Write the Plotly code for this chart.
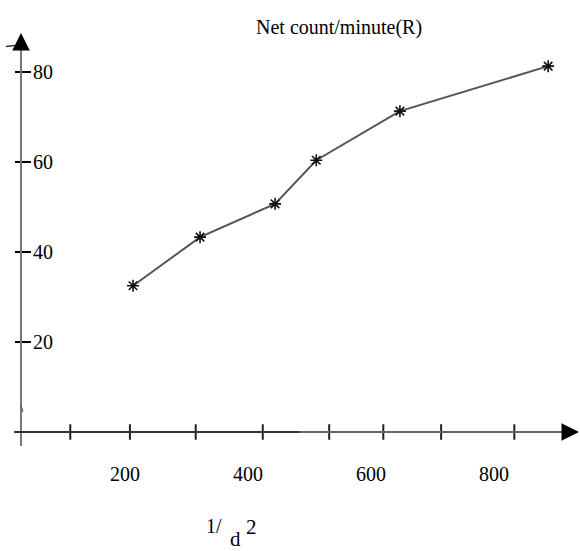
import plotly.graph_objects as go

# ---- data ----
inv_d2 = [213, 322, 444, 511, 647, 888]          # 1/d^2
net_count = [32.5, 43.3, 50.7, 60.4, 71.3, 81.3]  # Net count/minute (R)
axis_marks = [111, 208, 315, 424, 532, 620, 714, 833]
x_ticks = [200, 400, 600, 800]
y_ticks = [20, 40, 60, 80]

W, H = 580, 551
FONT = "Liberation Serif, Times New Roman, serif"

def pxx(x):
    return x / W

def pxy(y):
    return 1 - y / H

fig = go.Figure()

fig.add_trace(go.Scatter(
    x=inv_d2, y=net_count, mode="lines+markers",
    line=dict(color="#555555", width=2),
    marker=dict(symbol="asterisk-open", size=10, color="#111111",
                line=dict(color="#111111", width=1.6)),
    cliponaxis=False, showlegend=False, hoverinfo="skip"))

fig.add_trace(go.Scatter(
    x=axis_marks, y=[0] * len(axis_marks), mode="markers",
    marker=dict(symbol="cross-thin-open", size=11, color="#222222",
                line=dict(color="#222222", width=2)),
    cliponaxis=False, showlegend=False, hoverinfo="skip"))

# dummy trace for second y axis (tick marks crossing the axis line)
fig.add_trace(go.Scatter(x=[None], y=[None], yaxis="y2", showlegend=False))

fig.update_layout(
    width=W, height=H,
    margin=dict(l=0, r=0, t=0, b=0),
    paper_bgcolor="white", plot_bgcolor="white",
    font=dict(family=FONT, size=20, color="black"),
    xaxis=dict(range=[-3.25, 939.8], anchor="free", position=pxy(432),
               showgrid=False, zeroline=False, showline=False,
               tickvals=x_ticks, ticks="", ticklabelstandoff=28,
               tickfont=dict(family=FONT, size=20, color="black")),
    yaxis=dict(range=[-26.44, 96], anchor="free", position=pxx(21),
               showgrid=False, zeroline=False, showline=False,
               tickvals=y_ticks, ticks="inside", ticklen=9, tickwidth=1.5,
               tickcolor="black", ticklabelposition="inside",
               ticklabelstandoff=3,
               tickfont=dict(family=FONT, size=20, color="black")),
    yaxis2=dict(range=[-26.44, 96], overlaying="y", anchor="free", position=pxx(21),
                side="left", showgrid=False, zeroline=False, showline=False,
                tickvals=y_ticks, ticks="outside", ticklen=6, tickwidth=1.5,
                tickcolor="black", showticklabels=False),
)

shapes = [
    # y axis line
    dict(type="line", xref="paper", yref="paper", x0=pxx(21), x1=pxx(21),
         y0=pxy(446), y1=pxy(40), line=dict(color="#777777", width=2)),
    # x axis line (dark part, then grey part)
    dict(type="line", xref="paper", yref="paper", x0=pxx(14), x1=pxx(300),
         y0=pxy(432), y1=pxy(432), line=dict(color="#333333", width=2)),
    dict(type="line", xref="paper", yref="paper", x0=pxx(300), x1=pxx(566),
         y0=pxy(432), y1=pxy(432), line=dict(color="#666666", width=2)),
    # small dash at the arrow base
    dict(type="line", xref="paper", yref="paper", x0=pxx(6), x1=pxx(24),
         y0=pxy(46.5), y1=pxy(44.5), line=dict(color="#333333", width=1.5)),
    # small nick on the y axis near the bottom
    dict(type="line", xref="paper", yref="paper", x0=pxx(21), x1=pxx(23),
         y0=pxy(405), y1=pxy(412), line=dict(color="#555555", width=1)),
]
fig.update_layout(shapes=shapes)

annotations = [
    # arrow heads
    dict(xref="paper", yref="paper", x=pxx(21), y=pxy(33), ax=0, ay=14,
         showarrow=True, arrowhead=2, arrowsize=1.4, arrowwidth=2.5,
         arrowcolor="black", text=""),
    dict(xref="paper", yref="paper", x=pxx(579), y=pxy(432), ax=-16, ay=0,
         showarrow=True, arrowhead=2, arrowsize=1.4, arrowwidth=2.5,
         arrowcolor="black", text=""),
    # title
    dict(xref="paper", yref="paper", x=pxx(339), y=pxy(27), showarrow=False,
         text="Net count/minute(R)", font=dict(family=FONT, size=20, color="black"),
         xanchor="center", yanchor="middle"),
    # x axis title 1/d^2
    dict(xref="paper", yref="paper", x=pxx(214), y=pxy(526), showarrow=False,
         text="1/", font=dict(family=FONT, size=20, color="black"),
         xanchor="center", yanchor="middle"),
    dict(xref="paper", yref="paper", x=pxx(235), y=pxy(539), showarrow=False,
         text="d", font=dict(family=FONT, size=21, color="black"),
         xanchor="center", yanchor="middle"),
    dict(xref="paper", yref="paper", x=pxx(251), y=pxy(527), showarrow=False,
         text="2", font=dict(family=FONT, size=21, color="black"),
         xanchor="center", yanchor="middle"),
]
fig.update_layout(annotations=annotations)

fig.write_html("out.html", config={"displayModeBar": False},
               post_script="document.body.style.margin='0';document.body.style.overflow='hidden';")
